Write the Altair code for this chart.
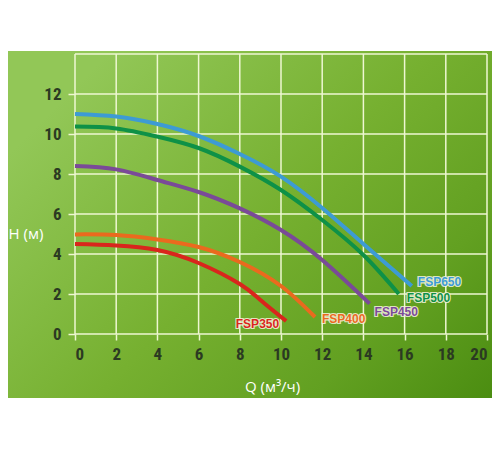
import altair as alt
import pandas as pd

# ---- data ----
series_names = ["FSP650", "FSP500", "FSP450", "FSP400", "FSP350"]
series_colors = ["#3d9bd4", "#0e9147", "#7a4a98", "#ea6a1e", "#d9261c"]

q_650 = [0, 2, 4, 6, 8, 10, 12, 14, 16.35]
h_650 = [11.0, 10.87, 10.5, 9.9, 9.0, 7.87, 6.3, 4.5, 2.4]
q_500 = [0, 2, 4, 6, 8, 10, 12, 14, 15.72]
h_500 = [10.37, 10.28, 9.87, 9.3, 8.37, 7.2, 5.7, 3.95, 2.0]
q_450 = [0, 2, 4, 6, 8, 10, 12, 14.3]
h_450 = [8.4, 8.23, 7.7, 7.1, 6.28, 5.2, 3.7, 1.52]
q_400 = [0, 2, 4, 6, 8, 10, 11.65]
h_400 = [4.98, 4.95, 4.73, 4.35, 3.6, 2.4, 0.85]
q_350 = [0, 2, 4, 6, 8, 9, 10.25]
h_350 = [4.5, 4.43, 4.2, 3.55, 2.5, 1.7, 0.65]

x_ticks = [0, 2, 4, 6, 8, 10, 12, 14, 16, 18, 20]
y_ticks = [0, 2, 4, 6, 8, 10, 12]
y_grid = [0, 2, 4, 6, 8, 10, 12, 14]

curves = {
    "FSP650": (q_650, h_650),
    "FSP500": (q_500, h_500),
    "FSP450": (q_450, h_450),
    "FSP400": (q_400, h_400),
    "FSP350": (q_350, h_350),
}

rows = []
for name in series_names:
    qs, hs = curves[name]
    for i, (q, h) in enumerate(zip(qs, hs)):
        rows.append({"series": name, "Q": q, "H": h, "i": i})
df = pd.DataFrame(rows)

ends = pd.DataFrame(
    [{"series": n, "Q": curves[n][0][-1], "H": curves[n][1][-1]} for n in series_names]
)

# label placement offsets (pixels) relative to curve end
label_style = {
    "FSP650": dict(align="left", dx=6, dy=-4),
    "FSP500": dict(align="left", dx=8, dy=4),
    "FSP450": dict(align="left", dx=5, dy=8),
    "FSP400": dict(align="left", dx=7, dy=2),
    "FSP350": dict(align="right", dx=-7, dy=3),
}

W, H = 412, 280
GRID = "#eef7d2"

xscale = alt.Scale(domain=[0, 20], nice=False, zero=False)
yscale = alt.Scale(domain=[0, 14], nice=False, zero=False)
color_scale = alt.Scale(domain=series_names, range=series_colors)

bg_gradient = alt.LinearGradient(
    gradient="linear",
    x1=0, y1=0.3, x2=1, y2=1,
    stops=[
        alt.GradientStop(color="#92c757", offset=0),
        alt.GradientStop(color="#76b030", offset=0.45),
        alt.GradientStop(color="#62a021", offset=0.75),
        alt.GradientStop(color="#4b8d11", offset=1),
    ],
)

bg = alt.Chart(pd.DataFrame({"a": [0]})).mark_rect(
    fill=bg_gradient, clip=False
).encode(
    x=alt.value(-67), x2=alt.value(417), y=alt.value(-3), y2=alt.value(344)
)

vgrid = alt.Chart(pd.DataFrame({"Q": x_ticks})).mark_rule(
    color=GRID, strokeWidth=1.5
).encode(x=alt.X("Q:Q", scale=xscale), y=alt.value(0), y2=alt.value(H))

hgrid = alt.Chart(pd.DataFrame({"H": y_grid})).mark_rule(
    color=GRID, strokeWidth=1.5
).encode(y=alt.Y("H:Q", scale=yscale), x=alt.value(0), x2=alt.value(W))

tick_font = ("Roboto Condensed, Noto Sans Condensed, Liberation Sans Narrow, "
             "DejaVu Sans Condensed, sans-serif")

base_axes = alt.Chart(df).mark_line(opacity=0).encode(
    x=alt.X(
        "Q:Q", scale=xscale,
        axis=alt.Axis(
            values=x_ticks, grid=False, zindex=1, labelOverlap=False,
            domain=False, tickColor=GRID, tickWidth=1.5, tickSize=6,
            labelFont=tick_font, labelFontWeight="bold", labelFontSize=17,
            labelColor="#2b3a22", labelPadding=6,
            title="Q (м³/ч)", titleFont="Open Sans", titleFontWeight="normal",
            titleFontSize=15, titleColor="#ffffff", titleX=197, titleY=52,
            titleAlign="center", titleBaseline="middle",
        ),
    ),
    y=alt.Y(
        "H:Q", scale=yscale,
        axis=alt.Axis(
            values=y_ticks, grid=False, zindex=1, labelOverlap=False,
            domain=False, tickColor=GRID, tickWidth=1.5, tickSize=7,
            labelFont=tick_font, labelFontWeight="bold", labelFontSize=17,
            labelColor="#2b3a22", labelPadding=7,
            title="H (м)", titleFont="Open Sans", titleFontWeight="normal",
            titleFontSize=15, titleColor="#ffffff", titleAngle=0,
            titleX=-67, titleY=179, titleAlign="left", titleBaseline="middle",
        ),
    ),
)

lines = alt.Chart(df).mark_line(
    interpolate="natural", strokeWidth=4, strokeCap="butt"
).encode(
    x=alt.X("Q:Q", scale=xscale),
    y=alt.Y("H:Q", scale=yscale),
    color=alt.Color("series:N", scale=color_scale, legend=None),
    order="i:Q",
    detail="series:N",
)

layers = [bg, vgrid, hgrid, base_axes, lines]
for name, col in zip(series_names, series_colors):
    st = label_style[name]
    d = ends[ends["series"] == name]
    outline = alt.Chart(d).mark_text(
        font="Liberation Sans", fontWeight="bold", fontSize=12,
        baseline="middle", stroke="#f4f4dc", strokeWidth=2.2, fill="#f4f4dc",
        strokeOpacity=0.85, **st
    ).encode(x=alt.X("Q:Q", scale=xscale), y=alt.Y("H:Q", scale=yscale), text="series:N")
    fill = alt.Chart(d).mark_text(
        font="Liberation Sans", fontWeight="bold", fontSize=12,
        baseline="middle", color=col, **st
    ).encode(x=alt.X("Q:Q", scale=xscale), y=alt.Y("H:Q", scale=yscale), text="series:N")
    layers += [outline, fill]

chart = alt.layer(*layers).properties(
    width=W, height=H,
    autosize=alt.AutoSizeParams(type="none"),
    padding={"left": 67, "top": 46, "right": 5, "bottom": 64},
    background="#ffffff",
).configure_view(stroke=None)

chart.save("out.html", embed_options={"renderer": "svg", "actions": False})
